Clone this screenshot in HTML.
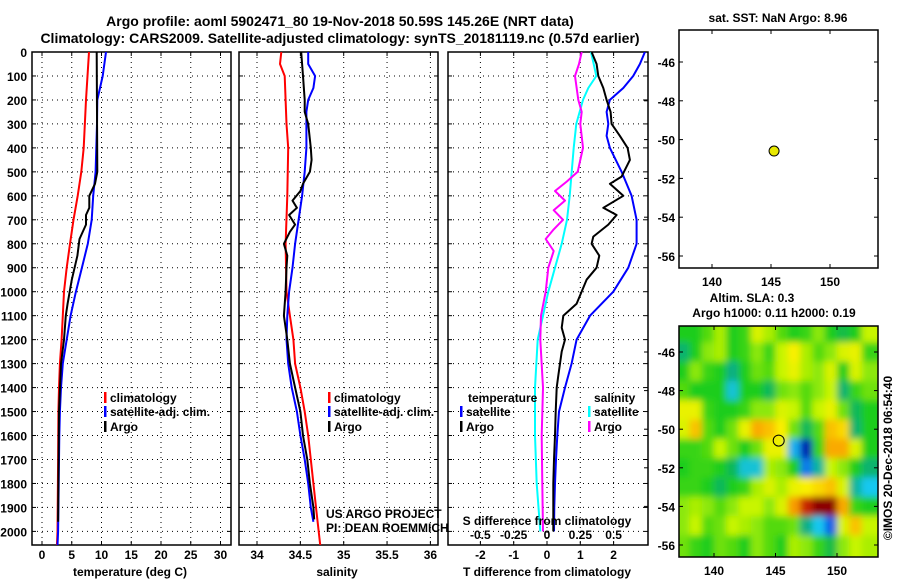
<!DOCTYPE html>
<html><head><meta charset="utf-8">
<style>
html,body{margin:0;padding:0;background:#fff;}
svg{display:block;font-family:"Liberation Sans",sans-serif;}
.b{font-weight:bold;font-size:12px;fill:#000;}
.t{font-weight:bold;font-size:14px;fill:#000;}
</style></head>
<body>
<svg id="c" width="900" height="580" viewBox="0 0 900 580" xmlns="http://www.w3.org/2000/svg">
<defs>
<clipPath id="clipMap"><rect x="679" y="326" width="199" height="231"/></clipPath>
<clipPath id="clipP1"><rect x="32" y="52" width="199" height="493"/></clipPath>
<clipPath id="clipP2"><rect x="239" y="52" width="199" height="493"/></clipPath>
<clipPath id="clipP3"><rect x="448" y="52" width="200" height="493"/></clipPath>
<filter id="blur" x="-10%" y="-10%" width="120%" height="120%"><feGaussianBlur stdDeviation="3.5"/></filter>
</defs>
<text class="t" x="340" y="26" text-anchor="middle">Argo profile: aoml 5902471_80 19-Nov-2018 50.59S 145.26E (NRT data)</text>
<text class="t" x="340" y="43" text-anchor="middle">Climatology: CARS2009. Satellite-adjusted climatology: synTS_20181119.nc (0.57d earlier)</text>
<text class="b" x="778" y="22" text-anchor="middle">sat. SST: NaN Argo: 8.96</text>
<text class="b" x="752" y="302" text-anchor="middle">Altim. SLA: 0.3</text>
<text class="b" x="774" y="317" text-anchor="middle">Argo h1000: 0.11 h2000: 0.19</text>
<g id="layer"></g>
</svg>
<script>
// ---------- DATA ----------
const depthTicks=[0,100,200,300,400,500,600,700,800,900,1000,1100,1200,1300,1400,1500,1600,1700,1800,1900,2000];
const tempTicks=[0,5,10,15,20,25,30];
const salTicks=[34,34.5,35,35.5,36];
const salTickLabels=['34','34.5','35','35.5','36'];
const tdiffTicks=[-2,-1,0,1,2];
const sdiffTicks=[-0.5,-0.25,0,0.25,0.5];
const sdiffTickLabels=['-0.5','-0.25','0','0.25','0.5'];
const latTicks=[-46,-48,-50,-52,-54,-56];
const lonTicks=[140,145,150];

const climTdepth=[0,200,400,500,600,700,800,900,1000,1100,1200,1300,1400,1500,1700,2000,2060];
const climT=[7.9,7.4,7.0,6.6,6.0,5.3,4.7,4.15,3.7,3.5,3.3,3.0,2.85,2.75,2.7,2.6,2.5];
const satTdepth=[0,100,200,300,500,600,700,800,900,1000,1100,1200,1300,1400,1500,1600,1800,2000,2060];
const satT=[10.75,10.2,9.3,9.25,9.0,8.6,8.35,7.7,6.7,5.7,4.8,4.15,3.5,3.2,3.0,2.9,2.8,2.7,2.6];
const argoTdepth=[0,500,550,600,650,680,720,780,850,950,1050,1100,1200,1300,1500,1800,1960];
const argoT=[9.2,9.3,8.9,7.95,7.95,7.4,7.4,6.3,5.95,5.0,4.3,4.0,3.7,3.2,2.85,2.75,2.7];

const climSdepth=[0,50,100,200,300,400,600,800,1000,1100,1200,1300,1400,1500,1600,1700,1800,1900,2060];
const climS=[34.28,34.265,34.32,34.33,34.34,34.36,34.35,34.33,34.34,34.38,34.42,34.44,34.5,34.55,34.59,34.62,34.65,34.68,34.73];
const satSdepth=[0,50,100,150,200,250,400,500,600,700,800,900,1000,1100,1200,1300,1400,1500,1600,1700,1800,1900,1960];
const satS=[34.59,34.59,34.67,34.65,34.59,34.57,34.57,34.55,34.52,34.48,34.44,34.41,34.37,34.35,34.34,34.36,34.4,34.46,34.5,34.55,34.59,34.62,34.65];
const argoSdepth=[0,100,200,250,300,400,450,500,550,580,620,650,680,720,750,800,850,900,1000,1100,1200,1300,1400,1500,1600,1700,1800,1900,1950];
const argoS=[34.51,34.53,34.55,34.55,34.59,34.62,34.63,34.61,34.53,34.5,34.41,34.46,34.37,34.44,34.38,34.31,34.35,34.34,34.33,34.31,34.35,34.38,34.44,34.5,34.53,34.58,34.61,34.65,34.66];

const dTsatDepth=[0,50,100,150,200,250,300,350,400,500,600,700,800,900,1000,1100,1200,1300,1400,1500,1600,1700,1800,1900,2000];
const dTsat=[2.94,2.79,2.59,2.29,1.89,1.79,1.84,1.79,1.89,2.24,2.54,2.69,2.69,2.44,1.99,1.29,0.89,0.74,0.54,0.36,0.31,0.27,0.24,0.22,0.21];
const dTargoDepth=[0,50,100,150,200,250,300,350,400,450,520,550,600,650,680,720,770,800,850,900,950,1000,1050,1100,1150,1200,1250,1300,1350,1400,1500,1600,1700,1800,1900,2000];
const dTargo=[1.34,1.49,1.54,1.69,1.79,1.91,1.94,2.19,2.42,2.49,2.24,1.89,2.29,1.69,2.09,1.84,1.39,1.34,1.57,1.49,1.19,1.04,0.89,0.49,0.44,0.54,0.44,0.39,0.34,0.29,0.26,0.24,0.21,0.19,0.19,0.19];
const dSsatDepth=[0,50,100,150,200,300,400,500,600,700,800,900,1000,1100,1200,1400,1600,1800,2000];
const dSsat=[0.33,0.35,0.37,0.31,0.27,0.22,0.2,0.185,0.17,0.15,0.11,0.06,0.01,-0.03,-0.07,-0.09,-0.09,-0.077,-0.05];
const dSargoDepth=[0,50,100,200,250,300,400,450,500,540,580,620,660,700,740,780,830,900,1000,1100,1200,1400,1600,1800,2000];
const dSargo=[0.26,0.24,0.21,0.235,0.26,0.25,0.27,0.25,0.23,0.15,0.06,0.135,0.05,0.12,0.05,-0.01,0.05,0.01,-0.01,-0.045,-0.05,-0.03,-0.04,-0.035,-0.03];

const floatLon=145.26, floatLat=-50.59;
const gridLons=[137.5,138.5,139.5,140.5,141.5,142.5,143.5,144.5,145.5,146.5,147.5,148.5,149.5,150.5,151.5,152.5];
const gridLats=[-45,-46,-47,-48,-49,-50,-51,-52,-53,-54,-55,-56];
const slaRow0=[0,0,0.2,0.5,0,0.1,0.7,0.5,0.2,0,0.1,0.4,0,-0.2,0,0.6];
const slaRow1=[-0.4,0,0.4,0.5,0,0.1,0.4,0.1,0.6,0.9,0.5,0.2,0.4,0.7,0.8,0.1];
const slaRow2=[0,0.4,0.1,0,-0.5,0,0.3,0.2,0.6,0.8,0.5,0.4,0.7,0,0.7,0.4];
const slaRow3=[0.2,0,0,0,-0.8,0,0,-0.3,0.3,0.4,0.2,0.4,0.6,-0.4,0.1,0.3];
const slaRow4=[0.8,0.8,0.1,0,0,0.1,0.4,0.4,0.7,0.6,0.2,0.6,0.8,0.3,-0.3,0];
const slaRow5=[0.7,1.1,0.2,0,0.3,0.8,1.2,1.1,0.9,0.3,-0.3,0.2,1.1,1.0,-0.4,0];
const slaRow6=[0.1,0.1,0.2,0.6,0.3,0,0.3,0.8,0.8,-1.0,-1.8,0.1,1.2,1.2,0.7,0];
const slaRow7=[0,0.1,0.1,0,-0.3,-0.8,-0.8,0.5,0.4,0,-1.2,-0.6,0.6,0.4,0,-0.4];
const slaRow8=[0.1,0.1,0,-0.3,0,0.1,0.5,0.7,0.5,0.8,0.9,1.0,1.1,0.7,-0.6,-0.9];
const slaRow9=[0.4,0.5,0.4,0.2,0.4,0.6,0.6,0.4,0.7,1.3,1.9,2.2,2.2,1.2,0.1,0];
const slaRow10=[0.4,0.6,0.2,0.3,0.6,0.5,0.4,0.2,0.2,0.3,-0.5,-0.9,-1.3,0.7,1.1,0.6];
const slaRow11=[0.3,0.1,0,0.3,0.2,0,0.4,0.2,0,0.5,0.4,0.1,-0.2,0.4,0.6,0.5];
const slaGrid=[slaRow0,slaRow1,slaRow2,slaRow3,slaRow4,slaRow5,slaRow6,slaRow7,slaRow8,slaRow9,slaRow10,slaRow11];

// ---------- AXES ----------
const yD=d=>52+d*0.2397;
const x1=t=>42+t*5.95;
const x2=s=>257+(s-34)*86.7;
const x3=t=>547+t*33.3;
const x3s=s=>547+s*133.3;
const mapTopLat=lat=>62+(-46-lat)*19.4;
const mapTopLon=lon=>712+(lon-140)*11.8;
const mapBotLat=lat=>352+(-46-lat)*19.3;
const mapBotLon=lon=>714+(lon-140)*12.3;

const NS='http://www.w3.org/2000/svg';
const layer=document.getElementById('layer');
function mk(tag,attrs,parent){const e=document.createElementNS(NS,tag);for(const k in attrs)e.setAttribute(k,attrs[k]);(parent||layer).appendChild(e);return e;}
function txt(s,x,y,anchor,cls,parent){const e=mk('text',{x:x,y:y,'text-anchor':anchor,'class':cls||'b'},parent);e.textContent=s;return e;}

// ---------- SLA heatmap ----------
const stops=[[-2,[0,10,150]],[-1.4,[10,70,230]],[-0.9,[20,200,240]],[-0.5,[10,175,130]],[-0.15,[20,190,60]],[0,[30,205,30]],[0.3,[110,225,10]],[0.6,[200,245,0]],[0.9,[250,240,0]],[1.2,[250,170,0]],[1.6,[240,110,0]],[1.9,[200,40,0]],[2.2,[140,0,0]]];
function cmap(v){if(v<=stops[0][0])return 'rgb('+stops[0][1]+')';for(let i=1;i<stops.length;i++){if(v<=stops[i][0]){const a=stops[i-1],b=stops[i];const f=(v-a[0])/(b[0]-a[0]);const c=a[1].map((q,j)=>Math.round(q+(b[1][j]-q)*f));return 'rgb('+c+')';}}return 'rgb('+stops[stops.length-1][1]+')';}
const mapClip=mk('g',{'clip-path':'url(#clipMap)'});


mk('rect',{x:679,y:326,width:199,height:231,fill:'#40c820'},mapClip);
const blurG=mk('g',{filter:'url(#blur)'},mapClip);
gridLats.forEach((lat,r)=>{gridLons.forEach((lon,c)=>{
  let xa=mapBotLon(lon-0.5),xb=mapBotLon(lon+0.5),ya=mapBotLat(lat+0.5),yb=mapBotLat(lat-0.5);
  if(c===0)xa-=20; if(c===gridLons.length-1)xb+=20; if(r===0)ya-=20; if(r===gridLats.length-1)yb+=20;
  const cell=mk('rect',{x:xa,y:ya,width:xb-xa+0.5,height:yb-ya+0.5,fill:cmap(slaGrid[r][c])},blurG);
  
  
});});

// ---------- profile panels ----------
function panel(name,x0,w,clip,xTicks,xfn,labels){
  const g=mk('g',{});
  
  
  depthTicks.forEach(d=>{if(d>0)mk('line',{x1:x0,x2:x0+w,y1:yD(d),y2:yD(d),stroke:'#000','stroke-width':1,'stroke-dasharray':'1,4'},g);
    mk('line',{x1:x0,x2:x0+4,y1:yD(d),y2:yD(d),stroke:'#000'},g);mk('line',{x1:x0+w-4,x2:x0+w,y1:yD(d),y2:yD(d),stroke:'#000'},g);});
  xTicks.forEach((t,i)=>{const X=xfn(t);mk('line',{x1:X,x2:X,y1:52,y2:545,stroke:'#000','stroke-dasharray':'1,4'},g);
    mk('line',{x1:X,x2:X,y1:541,y2:545,stroke:'#000'},g);mk('line',{x1:X,x2:X,y1:52,y2:56,stroke:'#000'},g);
    if(labels){const l=txt(labels[i],X,559,'middle','b',g);}});
  mk('rect',{x:x0,y:52,width:w,height:493,fill:'none',stroke:'#000','stroke-width':1.5},g);
  return g;
}
const p1=panel('temperature-panel',32,199,'clipP1',tempTicks,x1,tempTicks.map(String));
const p2=panel('salinity-panel',239,199,'clipP2',salTicks,x2,salTickLabels);
const p3=panel('difference-panel',448,200,'clipP3',tdiffTicks,x3,tdiffTicks.map(String));

depthTicks.forEach(d=>{const l=txt(String(d),27,yD(d)+5,'end');});

function line(depths,vals,xf,color,clip,name){
  const pts=depths.map((d,i)=>xf(vals[i]).toFixed(1)+','+yD(d).toFixed(1)).join(' ');
  const p=mk('polyline',{points:pts,fill:'none',stroke:color,'stroke-width':2,'stroke-linejoin':'round','clip-path':'url(#'+clip+')'});
  
  
}
line(climTdepth,climT,x1,'#ff0000','clipP1','temp-climatology-line');
line(satTdepth,satT,x1,'#0000ff','clipP1','temp-satellite-line');
line(argoTdepth,argoT,x1,'#000000','clipP1','temp-argo-line');
line(climSdepth,climS,x2,'#ff0000','clipP2','sal-climatology-line');
line(satSdepth,satS,x2,'#0000ff','clipP2','sal-satellite-line');
line(argoSdepth,argoS,x2,'#000000','clipP2','sal-argo-line');
line(dSsatDepth,dSsat,x3s,'#00ffff','clipP3','sdiff-satellite-line');
line(dSargoDepth,dSargo,x3s,'#ff00ff','clipP3','sdiff-argo-line');
line(dTsatDepth,dTsat,x3,'#0000ff','clipP3','tdiff-satellite-line');
line(dTargoDepth,dTargo,x3,'#000000','clipP3','tdiff-argo-line');

// axis titles
[['temperature (deg C)',130,'x-axis-title-temperature'],['salinity',337,'x-axis-title-salinity'],['T difference from climatology',547,'x-axis-title-tdiff']].forEach(a=>{const l=txt(a[0],a[1],576,'middle');});
const sdt=txt('S difference from climatology',547,525,'middle');


sdiffTicks.forEach((s,i)=>{const l=txt(sdiffTickLabels[i],x3s(s),539,'middle');});

// legends
function legend(x,y,color,label){const g=mk('g',{});
  mk('rect',{x:x,y:y-10,width:2.5,height:11,fill:color},g);txt(label,x+6,y,'start','b',g);}
legend(104,402,'#ff0000','climatology');legend(104,416,'#0000ff','satellite-adj. clim.');legend(104,431,'#000000','Argo');
legend(328,402,'#ff0000','climatology');legend(328,416,'#0000ff','satellite-adj. clim.');legend(328,431,'#000000','Argo');
const lt=txt('temperature',468,402,'start');
legend(460,416,'#0000ff','satellite');legend(460,431,'#000000','Argo');
const ls=txt('salinity',594,402,'start');
legend(588,416,'#00ffff','satellite');legend(588,431,'#ff00ff','Argo');

const c1=txt('US ARGO PROJECT',326,518,'start','');c1.setAttribute('font-size','11.5');c1.setAttribute('fill','#333');

const c2=txt('PI: DEAN ROEMMICH',326,532,'start','');c2.setAttribute('font-size','11.5');c2.setAttribute('fill','#333');


// ---------- maps ----------
function mapFrame(name,y0,h,latf,lonf){
  const g=mk('g',{});
  mk('rect',{x:679,y:y0,width:199,height:h,fill:'none',stroke:'#000','stroke-width':1.5},g);
  latTicks.forEach(l=>{const Y=latf(l);mk('line',{x1:679,x2:683,y1:Y,y2:Y,stroke:'#000'},g);mk('line',{x1:874,x2:878,y1:Y,y2:Y,stroke:'#000'},g);
    mk('line',{x1:644,x2:648,y1:Y,y2:Y,stroke:'#000'},g);
    const t=txt(String(l),675,Y+5,'end','b',g);});
  lonTicks.forEach(l=>{const X=lonf(l);mk('line',{x1:X,x2:X,y1:y0,y2:y0+4,stroke:'#000'},g);mk('line',{x1:X,x2:X,y1:y0+h-4,y2:y0+h,stroke:'#000'},g);
    const t=txt(String(l),X,y0+h+18,'middle','b',g);});
  return g;
}
mapFrame('sst-map',30,238,mapTopLat,mapTopLon);
mapFrame('sla-map',326,231,mapBotLat,mapBotLon);
const m1=mk('circle',{cx:mapTopLon(floatLon),cy:mapTopLat(floatLat),r:5,fill:'#e8e800',stroke:'#000','stroke-width':1});

const m2=mk('circle',{cx:mapBotLon(floatLon),cy:mapBotLat(floatLat),r:5.5,fill:'none',stroke:'#000','stroke-width':1});

const rot=txt('\u00a9IMOS 20-Dec-2018 06:54:40',0,0,'middle','');
rot.setAttribute('transform','translate(892,458) rotate(-90)');rot.setAttribute('font-size','12');

</script>
</body></html>
